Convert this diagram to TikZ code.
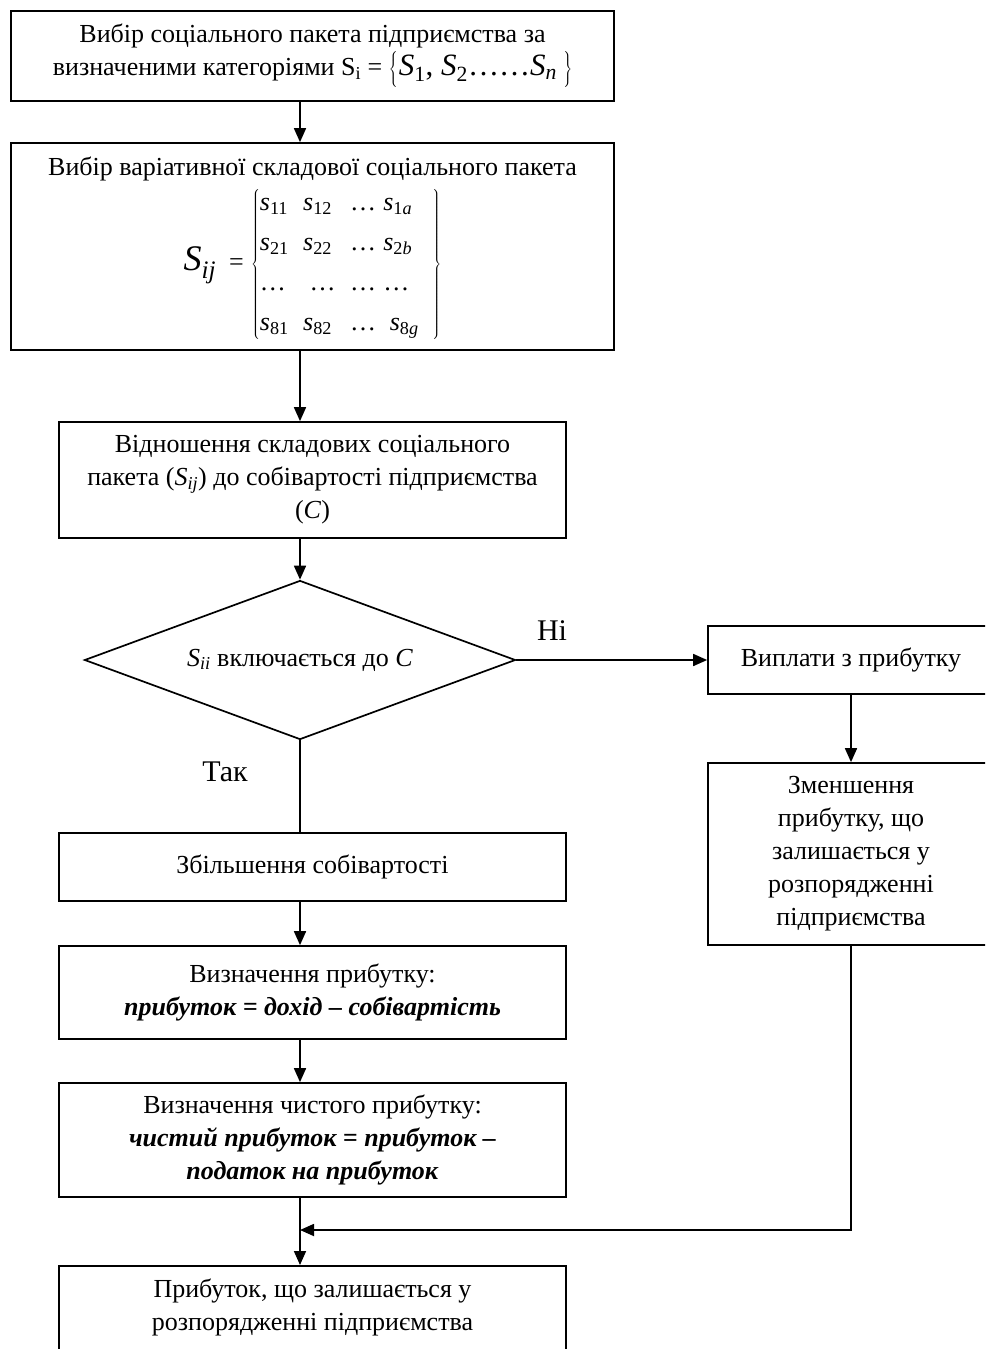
\documentclass[tikz,border=0pt]{standalone}
\usepackage{fontspec}
\setmainfont{Liberation Serif}
\usetikzlibrary{shapes.geometric,arrows.meta}
\newcommand\fbody{\fontsize{26}{33}\selectfont}
\newcommand\flabel{\fontsize{30}{34}\selectfont}
\newcommand\iv[2]{\textit{#1}\textsubscript{#2}}
\newcommand\bi[1]{\textbf{\textit{#1}}}
\newcommand\strutbig{\vrule height 25pt depth 9pt width 0pt}
\begin{document}
\begin{tikzpicture}[x=1pt,y=-1pt,
  box/.style={draw,line width=1.7pt,rectangle,inner sep=0pt,align=center,font=\fbody},
  dec/.style={draw,line width=1.7pt,diamond,aspect=2.71,inner sep=0pt,minimum width=431pt,minimum height=159pt,font=\fbody},
  arr/.style={line width=1.7pt,-{Triangle[length=14pt,width=12pt]}},
  ln/.style={line width=1.7pt},
  lbl/.style={font=\flabel,inner sep=0pt}]
\useasboundingbox (0,0) rectangle (985,1349);
\fill[white] (0,0) rectangle (985,1349);
\clip (0,0) rectangle (985,1349);

\coordinate (ax) at (300,0);

\node[box,minimum width=603pt,minimum height=90pt] (b1) at (312.5,56)
  {Вибір соціального пакета підприємства за\\
   визначеними категоріями S\textsubscript{i} = {\fontsize{31}{34}\selectfont$\left\{\strutbig\right.$\iv{S}{1}, \iv{S}{2}……\iv{S}{\textit{n}}\,$\left.\strutbig\right\}$}};

\node[box,minimum width=603pt,minimum height=207pt] (b2) at (312.5,246.5)
  {\begin{tabular}{@{}c@{}}Вибір варіативної складової соціального пакета\\[2pt]
   {\fontsize{36}{36}\selectfont\iv{S}{\textit{ij}}}\enspace=\;$\left\{\mbox{\begin{tabular}{@{}l@{\;\;}l@{\;\;}l@{\;}l@{}}
   \iv{s}{11} & \iv{s}{12} & … & \iv{s}{1\textit{a}}\\[7pt]
   \iv{s}{21} & \iv{s}{22} & … & \iv{s}{2\textit{b}}\\[7pt]
   …\ & \ … & … & … \\[7pt]
   \iv{s}{81} & \iv{s}{82} & … & \ \iv{s}{8\textit{g}}
   \end{tabular}}\;\;\right\}$\end{tabular}};

\node[box,minimum width=507pt,minimum height=116pt] (b3) at (312.5,480)
  {Відношення складових соціального\\
   пакета (\iv{S}{\textit{ij}}) до собівартості підприємства\\
   (\textit{C})};

\node[dec] (d) at (300,660) {\iv{S}{\textit{ii}} включається до \textit{C}};

\node[box,minimum width=286pt,minimum height=68pt] (r1) at (851,660) {Виплати з прибутку};
\node[box,minimum width=286pt,minimum height=182pt] (r2) at (851,854)
  {Зменшення\\прибутку, що\\залишається у\\розпорядженні\\підприємства};

\node[box,minimum width=507pt,minimum height=68pt] (b4) at (312.5,867) {Збільшення собівартості};
\node[box,minimum width=507pt,minimum height=93pt] (b5) at (312.5,992.5)
  {Визначення прибутку:\\\bi{прибуток = дохід – собівартість}};
\node[box,minimum width=507pt,minimum height=114pt] (b6) at (312.5,1140)
  {Визначення чистого прибутку:\\\bi{чистий прибуток = прибуток –}\\\bi{податок на прибуток}};
\node[box,minimum width=507pt,minimum height=170pt,anchor=north] (b7) at (312.5,1265) {};
\node[font=\fbody,align=center,inner sep=0pt] (b7t) at (312.5,1307)
  {Прибуток, що залишається у\\розпорядженні підприємства};

\node[lbl] (no) at (552,631) {Ні};
\node[lbl] (yes) at (225,772) {Так};

\coordinate (j) at (300,1230);

\draw[arr] (b1.south -| ax) -- (b2.north -| ax);
\draw[arr] (b2.south -| ax) -- (b3.north -| ax);
\draw[arr] (b3.south -| ax) -- (d.north);
\draw[arr] (d.east) -- (r1.west);
\draw[arr] (r1.south) -- (r2.north);
\draw[ln] (d.south) -- (b4.north -| ax);
\draw[arr] (b4.south -| ax) -- (b5.north -| ax);
\draw[arr] (b5.south -| ax) -- (b6.north -| ax);
\draw[arr] (b6.south -| ax) -- (b7.north -| ax);
\draw[arr] (r2.south) -- (r2.south |- j) -- (j);
\end{tikzpicture}
\end{document}
